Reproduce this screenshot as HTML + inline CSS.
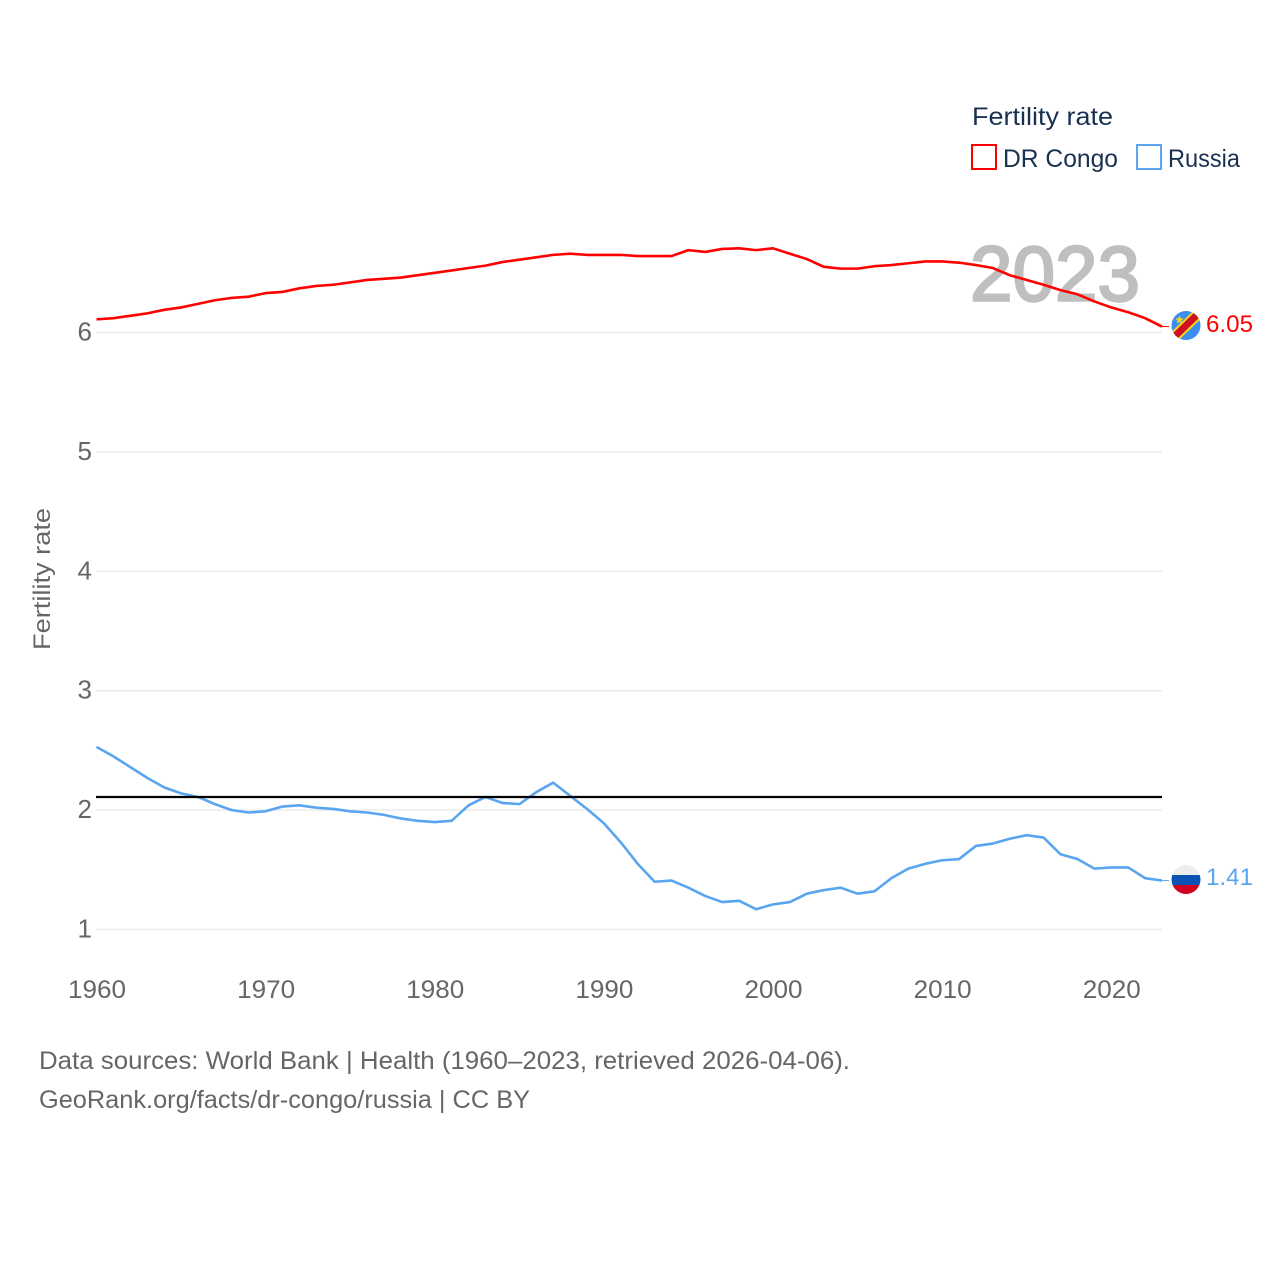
<!DOCTYPE html>
<html lang="en">
<head>
<meta charset="utf-8">
<title>Fertility rate: DR Congo and Russia</title>
<style>
html,body{margin:0;padding:0;background:#fff;width:1280px;height:1280px;overflow:hidden}
svg{display:block;font-family:"Liberation Sans",sans-serif}
</style>
</head>
<body>
<svg id="chart" width="1280" height="1280" viewBox="0 0 1280 1280" xmlns="http://www.w3.org/2000/svg">
  <defs>
    <clipPath id="clip-cd"><circle cx="1186" cy="325.5" r="14.5"/></clipPath>
    <clipPath id="clip-ru"><circle cx="1186" cy="879.5" r="14.5"/></clipPath>
  </defs>
  <g id="grid"></g>
  <g id="yticks"></g>
  <g id="xticks"></g>
  <text transform="translate(50,579) rotate(-90)" text-anchor="middle" font-size="24" fill="#666" textLength="142" lengthAdjust="spacingAndGlyphs">Fertility rate</text>
  <text x="970" y="300.5" font-size="78" font-weight="400" fill="#bfbfbf" stroke="#bfbfbf" stroke-width="2.4" textLength="170" lengthAdjust="spacingAndGlyphs">2023</text>
  <g id="series"></g>
  <g id="refline"></g>

  <g clip-path="url(#clip-cd)">
    <rect x="1171" y="311" width="30" height="30" fill="#3d8fee"/>
    <line x1="1170" y1="341" x2="1202" y2="310" stroke="#f7d618" stroke-width="11"/>
    <line x1="1170" y1="341" x2="1202" y2="310" stroke="#ce1021" stroke-width="7"/>
    <polygon points="1179.5,315.5 1180.7,318.4 1183.8,318.6 1181.4,320.5 1182.2,323.5 1179.5,321.9 1176.8,323.5 1177.6,320.5 1175.2,318.6 1178.3,318.4" fill="#f7d618"/>
  </g>
  <g clip-path="url(#clip-ru)">
    <rect x="1171" y="864" width="30" height="11" fill="#eeeeee"/>
    <rect x="1171" y="875" width="30" height="10" fill="#0a52b4"/>
    <rect x="1171" y="885" width="30" height="11" fill="#d0021f"/>
  </g>
  <text id="label-cd" x="1206" y="332" font-size="24" fill="#ff0000" textLength="47" lengthAdjust="spacingAndGlyphs"></text>
  <text id="label-ru" x="1206" y="885" font-size="24" fill="#5aa5ef" textLength="47" lengthAdjust="spacingAndGlyphs"></text>

  <g>
    <text x="972" y="125" font-size="25" fill="#1a3050" textLength="141" lengthAdjust="spacingAndGlyphs">Fertility rate</text>
    <g>
      <rect x="972" y="145" width="24" height="24" fill="#fff" stroke="#ff0000" stroke-width="2"/>
      <text x="1003" y="167" font-size="25" fill="#1a3050" textLength="115" lengthAdjust="spacingAndGlyphs">DR Congo</text>
    </g>
    <g>
      <rect x="1137" y="145" width="24" height="24" fill="#fff" stroke="#5aa5ef" stroke-width="2"/>
      <text x="1168" y="167" font-size="25" fill="#1a3050" textLength="72" lengthAdjust="spacingAndGlyphs">Russia</text>
    </g>
  </g>

  <g>
    <text x="39" y="1069" font-size="25" fill="#666" textLength="811" lengthAdjust="spacingAndGlyphs">Data sources: World Bank | Health (1960–2023, retrieved 2026-04-06).</text>
    <text x="39" y="1108" font-size="25" fill="#666" textLength="491" lengthAdjust="spacingAndGlyphs">GeoRank.org/facts/dr-congo/russia | CC BY</text>
  </g>
</svg>
<script>
const years = [1960,1961,1962,1963,1964,1965,1966,1967,1968,1969,1970,1971,1972,1973,1974,1975,1976,1977,1978,1979,1980,1981,1982,1983,1984,1985,1986,1987,1988,1989,1990,1991,1992,1993,1994,1995,1996,1997,1998,1999,2000,2001,2002,2003,2004,2005,2006,2007,2008,2009,2010,2011,2012,2013,2014,2015,2016,2017,2018,2019,2020,2021,2022,2023];
const drCongoValues = [6.11,6.12,6.14,6.16,6.19,6.21,6.24,6.27,6.29,6.30,6.33,6.34,6.37,6.39,6.40,6.42,6.44,6.45,6.46,6.48,6.50,6.52,6.54,6.56,6.59,6.61,6.63,6.65,6.66,6.65,6.65,6.65,6.64,6.64,6.64,6.69,6.675,6.70,6.705,6.69,6.705,6.66,6.615,6.55,6.535,6.535,6.555,6.565,6.58,6.595,6.595,6.585,6.565,6.54,6.48,6.44,6.40,6.355,6.32,6.26,6.21,6.17,6.12,6.05];
const russiaValues = [2.53,2.45,2.36,2.27,2.19,2.14,2.11,2.05,2.00,1.98,1.99,2.03,2.04,2.02,2.01,1.99,1.98,1.96,1.93,1.91,1.90,1.91,2.04,2.11,2.06,2.05,2.15,2.23,2.12,2.01,1.89,1.73,1.55,1.40,1.41,1.35,1.28,1.23,1.24,1.17,1.21,1.23,1.30,1.33,1.35,1.30,1.32,1.43,1.51,1.55,1.58,1.59,1.70,1.72,1.76,1.79,1.77,1.63,1.59,1.51,1.52,1.52,1.43,1.41];
const yTickValues = [1,2,3,4,5,6];
const xTickValues = [1960,1970,1980,1990,2000,2010,2020];
const replacementRate = [2.11];

const SVG_NS = 'http://www.w3.org/2000/svg';
function xScale(year){ return 96.5 + (year - 1960) * (1162 - 96.5) / 63; }
function yScale(value){ return 929.5 - (value - 1) * (929.5 - 332.5) / 5; }
function make(tag, attrs, parent){
  const el = document.createElementNS(SVG_NS, tag);
  for (const k in attrs) el.setAttribute(k, attrs[k]);
  parent.appendChild(el);
  return el;
}

const grid = document.getElementById('grid');
const yticks = document.getElementById('yticks');
const xticks = document.getElementById('xticks');
const series = document.getElementById('series');
const refline = document.getElementById('refline');

yTickValues.forEach(function(v){
  const line = make('line', {x1:96, x2:1162, y1:yScale(v), y2:yScale(v), stroke:'#ebebeb', 'stroke-width':1.5}, grid);
  
  
  const t = make('text', {x:92, y:yScale(v)+8, 'text-anchor':'end', 'font-size':26, fill:'#666'}, yticks);
  
  
  t.textContent = String(v);
});

xTickValues.forEach(function(v){
  const t = make('text', {x:xScale(v)+0.5, y:998, 'text-anchor':'middle', 'font-size':25, fill:'#666', textLength:58, lengthAdjust:'spacingAndGlyphs'}, xticks);
  
  
  t.textContent = String(v);
});

function drawSeries(values, color, name){
  const pts = years.map(function(y, i){ return xScale(y).toFixed(2) + ',' + yScale(values[i]).toFixed(2); }).join(' ');
  const last = years.length - 1;
  const line = make('polyline', {points:pts, fill:'none', stroke:color, 'stroke-width':2.6, 'stroke-linejoin':'round'}, series);
  
  
  const lead = make('line', {x1:xScale(years[last]), x2:xScale(years[last])+7, y1:yScale(values[last]), y2:yScale(values[last]), stroke:color, 'stroke-width':1}, series);
  
  
}
drawSeries(drCongoValues, '#ff0000', 'dr-congo-line');
drawSeries(russiaValues, '#5aa5ef', 'russia-line');

const ref = make('line', {x1:96, x2:1162, y1:yScale(replacementRate[0]), y2:yScale(replacementRate[0]), stroke:'#000', 'stroke-width':2.2}, refline);



document.getElementById('label-cd').textContent = drCongoValues[drCongoValues.length-1].toFixed(2);
document.getElementById('label-ru').textContent = russiaValues[russiaValues.length-1].toFixed(2);
</script>
</body>
</html>
